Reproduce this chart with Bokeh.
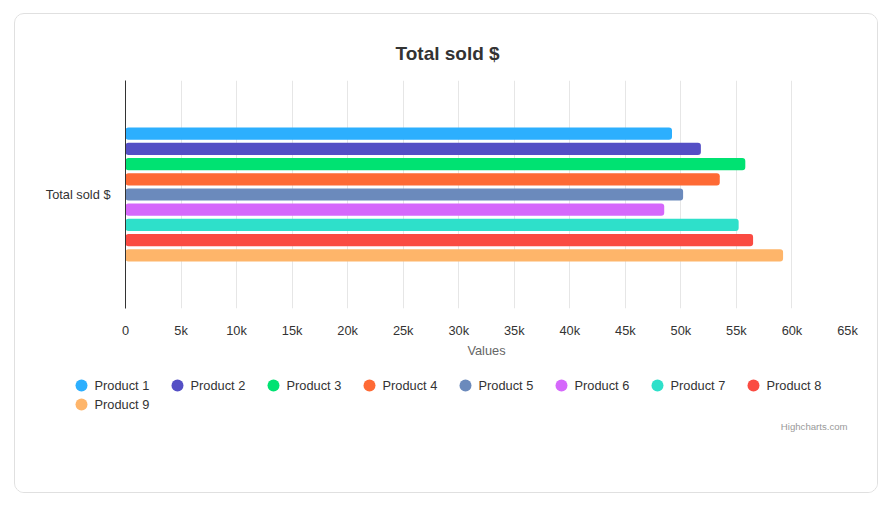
from bokeh.plotting import figure
from bokeh.models import Range1d, FactorRange, FixedTicker, ColumnDataSource, Spacer
from bokeh.layouts import column, row
from bokeh.transform import dodge
from bokeh.core.properties import value
from bokeh.embed import file_html
from bokeh.resources import INLINE

# ---- data ----
title_text = "Total sold $"
category = ["Total sold $"]
products = ["Product 1", "Product 2", "Product 3", "Product 4", "Product 5",
            "Product 6", "Product 7", "Product 8", "Product 9"]
sold = [49200, 51800, 55800, 53500, 50200, 48500, 55200, 56500, 59200]
colors = ["#2caffe", "#544fc5", "#00e272", "#fe6a35", "#6b8abc",
          "#d568fb", "#2ee0ca", "#fa4b42", "#feb56a"]
tick_values = [0, 5000, 10000, 15000, 20000, 25000, 30000, 35000,
               40000, 45000, 50000, 55000, 60000, 65000]
tick_labels = ["0", "5k", "10k", "15k", "20k", "25k", "30k", "35k",
               "40k", "45k", "50k", "55k", "60k", "65k"]
x_axis_title = "Values"
credits_text = "Highcharts.com"

FONT = "Liberation Sans"
TXT = "#333333"

# ---- main chart ----
p = figure(width=862, height=355, output_backend="svg", toolbar_location=None,
           x_range=Range1d(0, 65000), y_range=FactorRange(factors=category, range_padding=0),
           min_border_left=110, min_border_right=30, min_border_top=66, min_border_bottom=61)
p.outline_line_color = None
p.background_fill_color = "white"
p.border_fill_color = "white"
p.frame_align = False

n = len(products)
group = 0.6
pitch = group / n
bar_h = pitch * 0.8
for i, (name, val, col) in enumerate(zip(products, sold, colors)):
    src = ColumnDataSource(dict(cat=category, v=[val]))
    p.hbar(y=dodge("cat", ((n - 1) / 2 - i) * pitch, range=p.y_range), left=0, right="v",
           height=bar_h, source=src, fill_color=col, line_color=None, border_radius=3)

p.title.text = title_text
p.title.align = "left"
p.title.text_font = FONT
p.title.text_font_size = "19px"
p.title.text_font_style = "bold"
p.title.text_color = TXT
p.title.standoff = 33
p.title.offset = 270

xa = p.xaxis[0]
xa.ticker = FixedTicker(ticks=tick_values)
xa.major_label_overrides = {t: l for t, l in zip(tick_values, tick_labels)}
xa.axis_line_color = None
xa.major_tick_line_color = None
xa.minor_tick_line_color = None
xa.major_tick_out = 0
xa.major_label_standoff = 14
xa.major_label_text_font = FONT
xa.major_label_text_font_size = "12.8px"
xa.major_label_text_color = TXT
xa.axis_label = x_axis_title
xa.axis_label_text_font = FONT
xa.axis_label_text_font_size = "12.8px"
xa.axis_label_text_font_style = "normal"
xa.axis_label_text_color = "#666666"
xa.axis_label_standoff = 2

ya = p.yaxis[0]
ya.axis_line_color = TXT
ya.axis_line_width = 1
ya.major_tick_line_color = None
ya.minor_tick_line_color = None
ya.major_tick_out = 0
ya.major_label_standoff = 15
ya.major_label_text_font = FONT
ya.major_label_text_font_size = "12.8px"
ya.major_label_text_color = TXT

p.xgrid.grid_line_color = "#e6e6e6"
p.xgrid.grid_line_width = 1
p.ygrid.grid_line_color = None

# ---- legend area ----
leg = figure(width=862, height=123, output_backend="svg", toolbar_location=None,
             x_range=Range1d(0, 862), y_range=Range1d(123, 0),
             min_border=0, min_border_left=0, min_border_right=0,
             min_border_top=0, min_border_bottom=0)
leg.axis.visible = False
leg.grid.visible = False
leg.outline_line_color = None
leg.border_fill_color = "white"
leg.frame_align = False

per_row = 8
lx = [66 + 96 * (i % per_row) for i in range(n)]
ly = [16 + 19 * (i // per_row) for i in range(n)]
lsrc = ColumnDataSource(dict(x=lx, y=ly, tx=[x + 13 for x in lx], name=products, color=colors))
leg.scatter(x="x", y="y", size=12, marker="circle", fill_color="color", line_color=None, source=lsrc)
leg.text(x="tx", y="y", text="name", source=lsrc, text_font=value(FONT), text_font_size="12.8px",
         text_color=TXT, text_baseline="middle", text_align="left")
leg.text(x=[832], y=[57], text=[credits_text], text_font=value(FONT), text_font_size="9.6px",
         text_color="#999999", text_baseline="middle", text_align="right")

card = column(p, leg, spacing=0)
card.styles = {"border": "1px solid #e0e0e0", "border-radius": "10px", "overflow": "hidden",
               "background": "white"}

page = row(Spacer(width=14), column(Spacer(height=13), card, spacing=0), spacing=0)

open("out.html", "w").write(file_html(page, INLINE))
